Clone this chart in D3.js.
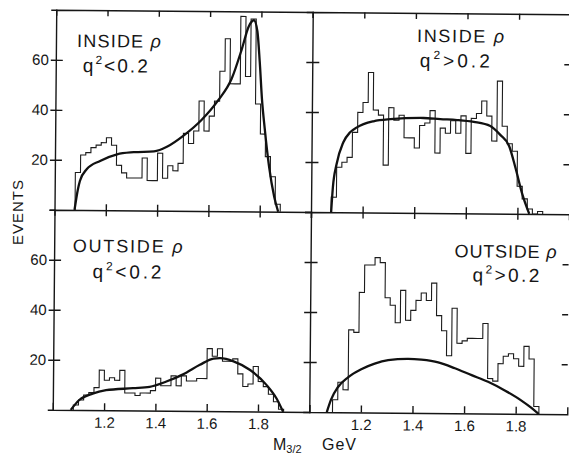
<!DOCTYPE html>
<html>
<head>
<meta charset="utf-8">
<script src="https://cdn.jsdelivr.net/npm/d3@7"></script>
<style>
body { margin: 0; background: #fff; }
svg { display: block; font-family: "Liberation Sans", Arial, sans-serif; }
.frame { font-family: "Liberation Sans", Arial, sans-serif; }
.frame path.domain, .frame line { stroke: #161616; stroke-width: 1.4; }
.frame text { font-size: 15px; fill: #161616; }
.hist { fill: none; stroke: #1c1c1c; stroke-width: 1.1; }
.fit { fill: none; stroke: #111; stroke-width: 2.3; }
.lab { font-size: 18px; fill: #161616; }
.cut { font-size: 19px; fill: #161616; }
</style>
</head>
<body>
<script>
var binWidth = 0.02;
var xTicks = [1.2, 1.4, 1.6, 1.8];
var yTicks = [20, 40, 60];
var panelTitles = ["INSIDE", "INSIDE", "OUTSIDE", "OUTSIDE"];
var panelCuts = ["q²<0.2", "q²>0.2", "q²<0.2", "q²>0.2"];

// events per 0.02 GeV bin, first bin edge given in GeV
var insideLowStart = 1.08;
var insideLowHist = [15,22,23,25,26,27,29,26,18,15,13,13,13,21,12,12,23,13,18,16,
                     19,31,27,32,44,32,38,44,56,69,51,51,78,54,77,43,31,22,14,3];
var insideHighStart = 1.078;
var insideHighHist = [6,18,20,22,32,40,44,56,41,39,19,42,37,39,30,30,26,35,36,41,
                      24,34,32,37,32,39,24,38,40,45,39,29,53,35,28,25,11,6,2,0,1];
var outsideLowStart = 1.08;
var outsideLowHist = [2,4,6,7,9,16,12,13,12,16,7,7,6,7,7,8,13,10,10,14,
                      10,14,12,12,13,13,25,22,25,20,20,21,15,10,11,18,12,10,7,4,1];
var outsideHighStart = 1.09;
var outsideHighHist = [5,12,9,33,32,48,59,59,62,60,46,43,36,49,37,41,45,48,45,52,
                       39,33,23,42,28,29,30,30,30,36,14,13,20,23,24,22,19,27,22,3];

// fitted curves [M, events]
var insideLowFit = [[1.078,0],[1.09,8],[1.098,11.6],[1.124,16.3],[1.176,19.7],[1.242,22.4],
  [1.307,23.3],[1.386,23.7],[1.438,25.7],[1.503,30.3],[1.569,36.3],[1.634,44.3],[1.686,53],
  [1.725,65],[1.751,74],[1.771,76.5],[1.785,72],[1.795,60],[1.805,45],[1.817,33],
  [1.835,18],[1.856,6],[1.872,0]];
var insideHighFit = [[1.078,0],[1.084,10],[1.097,19],[1.123,28],[1.149,32],[1.175,34],
  [1.239,36.5],[1.304,37.4],[1.433,38],[1.498,37.6],[1.563,37.3],[1.628,36.6],[1.692,35],
  [1.731,31.5],[1.766,27],[1.792,18],[1.818,8],[1.846,0]];
var outsideLowFit = [[1.07,0],[1.103,4],[1.155,6.6],[1.207,8],[1.312,8.9],[1.377,9.5],
  [1.442,11.7],[1.507,14.6],[1.572,18.5],[1.625,21],[1.651,21.2],[1.703,20],[1.768,16.6],
  [1.833,10.6],[1.872,5.3],[1.898,0]];
var outsideHighFit = [[1.068,0],[1.084,5],[1.11,10],[1.149,14],[1.2,17.3],[1.252,19.6],
  [1.304,21],[1.382,21.6],[1.433,21.3],[1.498,20.3],[1.563,18],[1.628,15.3],[1.692,12.7],
  [1.757,9.3],[1.822,5.3],[1.861,2.4],[1.889,0]];


var svg = d3.select("body").append("svg").attr("width", 569).attr("height", 455);
// the scanned figure is slightly tilted
var g = svg.append("g").attr("transform", "rotate(0.5,311,212)");

var panels = [
  {hist: insideLowHist, start: insideLowStart, fit: insideLowFit, x0: 54.5, x1: 311, y0: 212, y1: 12,
   left: true, top: true, t: [75.5, 49, 84], c: [81.5, 74, 65]},
  {hist: insideHighHist, start: insideHighStart, fit: insideHighFit, x0: 311, x1: 569, y0: 212, y1: 12,
   left: false, top: true, t: [415.5, 41, 87], c: [418.5, 66, 70]},
  {hist: outsideLowHist, start: outsideLowStart, fit: outsideLowFit, x0: 54.5, x1: 311, y0: 412, y1: 212,
   left: true, top: false, t: [73, 254, 110], c: [93, 280, 69]},
  {hist: outsideHighHist, start: outsideHighStart, fit: outsideHighFit, x0: 311, x1: 569, y0: 412, y1: 212,
   left: false, top: false, t: [455, 256, 102], c: [473, 280, 67]}
];

function histPoints(vals, start) {
  var pts = [[start, 0]];
  vals.forEach(function (v, i) { pts.push([start + i * binWidth, v]); });
  pts.push([start + vals.length * binWidth, 0]);
  return pts;
}

panels.forEach(function (p, i) {
  var x = d3.scaleLinear().domain([1, 2]).range([p.x0, p.x1]);
  var y = d3.scaleLinear().domain([0, 80]).range([p.y0, p.y1]);

  // bottom edge
  var bottom = g.append("g").attr("class", "frame")
    .attr("transform", "translate(0," + p.y0 + ")");
  if (p.top) {
    bottom.call(d3.axisBottom(x).tickValues(xTicks).tickSizeOuter(0).tickSize(6).tickFormat(""));
    bottom.selectAll(".tick line").attr("y1", -6);
  } else {
    bottom.call(d3.axisBottom(x).tickValues(xTicks).tickSizeOuter(0).tickSize(-7).tickPadding(7)
      .tickFormat(d3.format(".1f")));
  }

  // top edge
  if (p.top) {
    g.append("g").attr("class", "frame")
      .attr("transform", "translate(0," + p.y1 + ")")
      .call(d3.axisTop(x).tickValues(xTicks).tickSizeOuter(0).tickSize(-6).tickFormat(""));
  }

  // left edge
  var leftAx = g.append("g").attr("class", "frame")
    .attr("transform", "translate(" + p.x0 + ",0)");
  if (p.left) {
    leftAx.call(d3.axisLeft(y).tickValues(yTicks).tickSizeOuter(0).tickSize(5).tickPadding(2));
    leftAx.selectAll(".tick line").attr("x1", 7);
  } else {
    leftAx.call(d3.axisLeft(y).tickValues(yTicks).tickSizeOuter(0).tickSize(6).tickFormat(""));
    leftAx.selectAll(".tick line").attr("x1", 7);
    var rightAx = g.append("g").attr("class", "frame")
      .attr("transform", "translate(" + p.x1 + ",0)")
      .call(d3.axisRight(y).tickValues(yTicks).tickSizeOuter(0).tickSize(-6).tickFormat(""));
    rightAx.select(".domain").remove();
  }

  // histogram
  g.append("path")
    .datum(histPoints(p.hist, p.start))
    .attr("class", "hist")
    .attr("d", d3.line().curve(d3.curveStepAfter)
      .x(function (d) { return x(d[0]); })
      .y(function (d) { return y(d[1]); }));

  // fit curve
  g.append("path")
    .datum(p.fit)
    .attr("class", "fit")
    .attr("d", d3.line().curve(d3.curveMonotoneX)
      .x(function (d) { return x(d[0]); })
      .y(function (d) { return y(d[1]); }));

  // panel labels
  var title = g.append("text").attr("class", "lab")
    .attr("x", p.t[0]).attr("y", p.t[1])
    .attr("textLength", p.t[2]).attr("lengthAdjust", "spacing");
  title.append("tspan").text(panelTitles[i] + " ");
  title.append("tspan").attr("font-style", "italic").text("ρ");

  var parts = panelCuts[i].split("²");
  var cut = g.append("text").attr("class", "cut")
    .attr("x", p.c[0]).attr("y", p.c[1])
    .attr("textLength", p.c[2]).attr("lengthAdjust", "spacing");
  cut.append("tspan").text(parts[0]);
  cut.append("tspan").attr("dy", -8).attr("font-size", 12).text("2");
  cut.append("tspan").attr("dy", 8).text(parts[1]);
});

// axis titles
svg.append("text")
  .attr("transform", "translate(23,212) rotate(-90)")
  .attr("text-anchor", "middle")
  .style("font-size", "15px")
  .style("letter-spacing", "1px")
  .style("fill", "#161616")
  .text("EVENTS");

var mlab = svg.append("text")
  .attr("x", 273).attr("y", 450)
  .style("font-size", "16px")
  .style("fill", "#161616");
mlab.append("tspan").text("M");
mlab.append("tspan").attr("dy", 3).style("font-size", "11px").text("3/2");

svg.append("text")
  .attr("x", 322).attr("y", 450)
  .style("font-size", "16px")
  .style("letter-spacing", "1px")
  .style("fill", "#161616")
  .text("GeV");
</script>
</body>
</html>
